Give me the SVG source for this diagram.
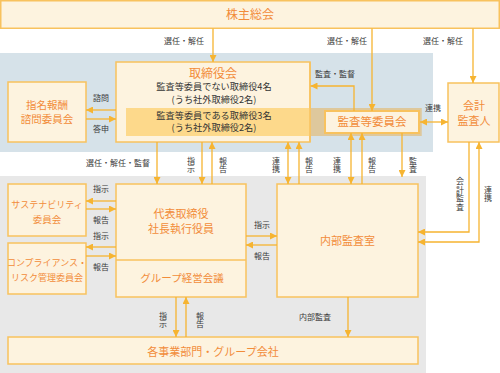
<svg xmlns="http://www.w3.org/2000/svg" width="500" height="373" viewBox="0 0 500 373">
<style>
.box{fill:#fdf3df;stroke:#f8c25e;stroke-width:1.5}
.t{font-family:"Noto Sans CJK JP","Noto Sans",sans-serif;fill:#f28c3a;text-anchor:middle}
.d{font-family:"Noto Sans CJK JP","Noto Sans",sans-serif;fill:#333;text-anchor:middle}
.lb{font-family:"Noto Sans CJK JP","Noto Sans",sans-serif;fill:#3a3a3a;text-anchor:middle;font-size:8px}
.v{writing-mode:vertical-rl;letter-spacing:0.5px}
.c{fill:none;stroke:#f6b431;stroke-width:1.3}
.a{marker-end:url(#ah)}
.b{marker-start:url(#ah);marker-end:url(#ah)}
</style>
<defs>
<marker id="ah" viewBox="0 0 8 8" refX="8" refY="4" markerWidth="7" markerHeight="7" markerUnits="userSpaceOnUse" orient="auto-start-reverse">
<path d="M0,0 L8,4 L0,8 z" fill="#f6b431"/>
</marker>
</defs>
<rect x="0" y="53" width="433" height="99" fill="#d6e2e9"/>
<rect x="0" y="176" width="426" height="197" fill="#e8e8e8"/>

<g id="kabunushi">
<rect class="box" x="0.75" y="0.75" width="498.5" height="27.5"/>
<text class="t" x="250" y="18.5" font-size="12">株主総会</text>
</g>
<g id="torishimariyakukai">
<rect class="box" x="116" y="62" width="194" height="80"/>
<rect x="126" y="108" width="184" height="28" fill="#fdd98b"/>
<rect x="310.75" y="108" width="111" height="28" fill="#dec89c"/>
<line x1="310" y1="62" x2="310" y2="142" stroke="#f8c25e" stroke-width="1.5"/>
<text class="t" x="213" y="77.5" font-size="12">取締役会</text>
<text class="d" x="214" y="90" font-size="9.2">監査等委員でない取締役4名</text>
<text class="d" x="214" y="102.5" font-size="9.2">(うち社外取締役2名)</text>
<text class="d" x="214" y="118.5" font-size="9.2">監査等委員である取締役3名</text>
<text class="d" x="214" y="131" font-size="9.2">(うち社外取締役2名)</text>
</g>
<g id="kansatou">
<rect x="325" y="111" width="94" height="22" fill="#fdf3df" stroke="#f8c25e" stroke-width="2"/>
<text class="t" x="372" y="126" font-size="11.5">監査等委員会</text>
</g>
<g id="shimei">
<rect class="box" x="8" y="82" width="78" height="60"/>
<text class="t" x="47" y="109" font-size="10.5">指名報酬</text>
<text class="t" x="47" y="122.5" font-size="10.5">諮問委員会</text>
</g>
<g id="kaikei">
<rect class="box" x="448" y="83" width="51" height="59"/>
<text class="t" x="474" y="110" font-size="11">会計</text>
<text class="t" x="474" y="124.6" font-size="11">監査人</text>
</g>
<g id="daihyo">
<rect class="box" x="116" y="184" width="130" height="113"/>
<line x1="116" y1="260" x2="246" y2="260" stroke="#f8c25e" stroke-width="1.5"/>
<text class="t" x="181" y="218.2" font-size="11">代表取締役</text>
<text class="t" x="181" y="232.8" font-size="11">社長執行役員</text>
<text class="t" x="182" y="282" font-size="10.5">グループ経営会議</text>
</g>
<g id="sustainability">
<rect class="box" x="8" y="184" width="78" height="52"/>
<text class="t" x="47" y="207.5" font-size="9">サステナビリティ</text>
<text class="t" x="47" y="222.5" font-size="9.5">委員会</text>
</g>
<g id="compliance">
<rect class="box" x="8" y="243" width="78" height="51"/>
<text class="t" x="47" y="265.5" font-size="9">コンプライアンス・</text>
<text class="t" x="47" y="280.5" font-size="9">リスク管理委員会</text>
</g>
<g id="naibukansa">
<rect class="box" x="277" y="184" width="141" height="113"/>
<text class="t" x="347.5" y="245" font-size="11">内部監査室</text>
</g>
<g id="jigyobu">
<rect class="box" x="8" y="337" width="410" height="27"/>
<text class="t" x="213" y="355.5" font-size="11">各事業部門・グループ会社</text>
</g>

<g id="connectors">
<path class="c a" d="M213,28.5 V62"/>
<path class="c a" d="M372,28.5 V111"/>
<path class="c a" d="M473,28.5 V83"/>
<path class="c a" d="M354,111 V86 H310.5"/>
<path class="c b" d="M420,122 H448"/>
<path class="c a" d="M116,110 H86"/>
<path class="c a" d="M86,119 H116"/>
<path class="c a" d="M157,142 V184"/>
<path class="c a" d="M202,142 V184"/>
<path class="c a" d="M212,184 V142"/>
<path class="c b" d="M288,142 V184"/>
<path class="c a" d="M299,184 V142"/>
<path class="c b" d="M351,133 V184"/>
<path class="c a" d="M362,184 V133"/>
<path class="c a" d="M402,133 V177"/>
<path class="c a" d="M469,142 V232 H418"/>
<path class="c b" d="M479,142 V242 H418"/>
<path class="c a" d="M116,201 H86"/>
<path class="c a" d="M86,209 H116"/>
<path class="c a" d="M116,247 H86"/>
<path class="c a" d="M86,256 H116"/>
<path class="c a" d="M246,236 H277"/>
<path class="c a" d="M277,245 H246"/>
<path class="c a" d="M176,297 V337"/>
<path class="c a" d="M186,337 V297"/>
<path class="c a" d="M348,297 V337"/>
</g>

<g id="labels">
<text class="lb" x="184" y="44">選任・解任</text>
<text class="lb" x="347" y="44">選任・解任</text>
<text class="lb" x="443" y="44">選任・解任</text>
<text class="lb" x="335" y="77">監査・監督</text>
<text class="lb" x="433" y="111">連携</text>
<text class="lb" x="101" y="101">諮問</text>
<text class="lb" x="101" y="132">答申</text>
<text class="lb" x="118" y="166">選任・解任・監督</text>
<text class="lb v" x="191" y="165">指示</text>
<text class="lb v" x="223" y="165">報告</text>
<text class="lb v" x="276" y="165">連携</text>
<text class="lb v" x="309" y="165">報告</text>
<text class="lb v" x="337" y="165">連携</text>
<text class="lb v" x="372" y="165">報告</text>
<text class="lb v" x="413" y="165">監査</text>
<text class="lb v" x="460" y="194">会計監査</text>
<text class="lb v" x="488" y="194">連携</text>
<text class="lb" x="101" y="192">指示</text>
<text class="lb" x="101" y="223">報告</text>
<text class="lb" x="101" y="239">指示</text>
<text class="lb" x="101" y="270">報告</text>
<text class="lb" x="262" y="228">指示</text>
<text class="lb" x="262" y="259">報告</text>
<text class="lb v" x="163" y="320">指示</text>
<text class="lb v" x="200" y="320">報告</text>
<text class="lb" x="315" y="320">内部監査</text>
</g>
</svg>
